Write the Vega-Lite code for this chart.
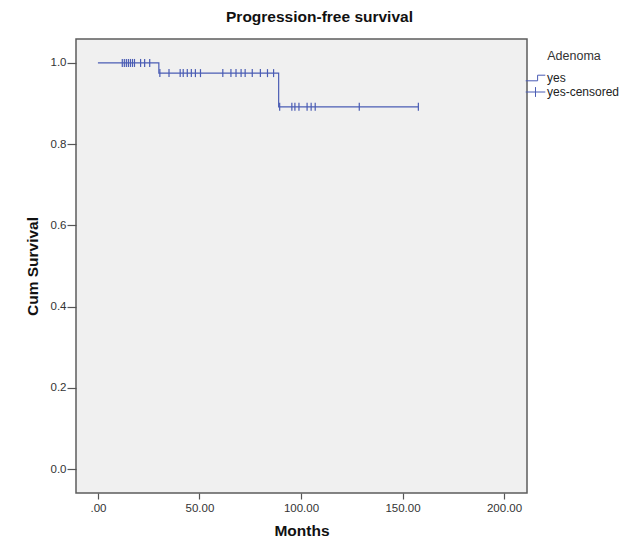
{
  "$schema": "https://vega.github.io/schema/vega-lite/v6.json",
  "autosize": "none",
  "width": 451,
  "height": 454,
  "padding": {"left": 76, "top": 39, "right": 113, "bottom": 49},
  "background": "white",
  "title": {
    "text": "Progression-free survival",
    "font": "Liberation Sans",
    "fontSize": 15.5,
    "fontWeight": "bold",
    "color": "#111",
    "anchor": "middle",
    "dx": 18,
    "offset": 14
  },
  "config": {
    "view": {"fill": "#f0f0f0", "stroke": "#5c5c5c", "strokeWidth": 1.5},
    "font": "Liberation Sans",
    "axis": {
      "domain": false,
      "grid": false,
      "tickColor": "#555",
      "tickWidth": 1.2,
      "labelFont": "Liberation Sans",
      "labelFontSize": 11.5,
      "labelColor": "#333",
      "titleFont": "Liberation Sans",
      "titleFontSize": 15.5,
      "titleFontWeight": "bold",
      "titleColor": "#111"
    }
  },
  "datasets": {
    "curve": [
      {"month": 0, "surv": 1.0, "series": "yes"},
      {"month": 30, "surv": 0.975, "series": "yes"},
      {"month": 89, "surv": 0.892, "series": "yes"},
      {"month": 157.8, "surv": 0.892, "series": "yes"}
    ],
    "censored": [
      {"month": 12, "surv": 1.0, "series": "yes-censored"},
      {"month": 13, "surv": 1.0, "series": "yes-censored"},
      {"month": 14, "surv": 1.0, "series": "yes-censored"},
      {"month": 15, "surv": 1.0, "series": "yes-censored"},
      {"month": 16, "surv": 1.0, "series": "yes-censored"},
      {"month": 17, "surv": 1.0, "series": "yes-censored"},
      {"month": 18, "surv": 1.0, "series": "yes-censored"},
      {"month": 21, "surv": 1.0, "series": "yes-censored"},
      {"month": 23, "surv": 1.0, "series": "yes-censored"},
      {"month": 25.5, "surv": 1.0, "series": "yes-censored"},
      {"month": 30.5, "surv": 0.975, "series": "yes-censored"},
      {"month": 35, "surv": 0.975, "series": "yes-censored"},
      {"month": 40.5, "surv": 0.975, "series": "yes-censored"},
      {"month": 42, "surv": 0.975, "series": "yes-censored"},
      {"month": 44, "surv": 0.975, "series": "yes-censored"},
      {"month": 46, "surv": 0.975, "series": "yes-censored"},
      {"month": 48, "surv": 0.975, "series": "yes-censored"},
      {"month": 50.5, "surv": 0.975, "series": "yes-censored"},
      {"month": 61.5, "surv": 0.975, "series": "yes-censored"},
      {"month": 65.5, "surv": 0.975, "series": "yes-censored"},
      {"month": 68, "surv": 0.975, "series": "yes-censored"},
      {"month": 70.5, "surv": 0.975, "series": "yes-censored"},
      {"month": 72.5, "surv": 0.975, "series": "yes-censored"},
      {"month": 76, "surv": 0.975, "series": "yes-censored"},
      {"month": 80, "surv": 0.975, "series": "yes-censored"},
      {"month": 83.5, "surv": 0.975, "series": "yes-censored"},
      {"month": 86.5, "surv": 0.975, "series": "yes-censored"},
      {"month": 89.5, "surv": 0.892, "series": "yes-censored"},
      {"month": 95.5, "surv": 0.892, "series": "yes-censored"},
      {"month": 97, "surv": 0.892, "series": "yes-censored"},
      {"month": 99, "surv": 0.892, "series": "yes-censored"},
      {"month": 103, "surv": 0.892, "series": "yes-censored"},
      {"month": 105, "surv": 0.892, "series": "yes-censored"},
      {"month": 107, "surv": 0.892, "series": "yes-censored"},
      {"month": 128.7, "surv": 0.892, "series": "yes-censored"},
      {"month": 157.8, "surv": 0.892, "series": "yes-censored"}
    ]
  },
  "encoding": {
    "x": {
      "field": "month",
      "type": "quantitative",
      "scale": {"domain": [-10.8, 211.3], "nice": false, "zero": false},
      "axis": {
        "title": "Months",
        "values": [0, 50, 100, 150, 200],
        "labelExpr": "datum.value === 0 ? '.00' : format(datum.value, '.2f')",
        "tickSize": 6,
        "labelPadding": 3,
        "titlePadding": 10
      }
    },
    "y": {
      "field": "surv",
      "type": "quantitative",
      "scale": {"domain": [-0.059, 1.059], "nice": false, "zero": false},
      "axis": {
        "title": "Cum Survival",
        "values": [0, 0.2, 0.4, 0.6, 0.8, 1.0],
        "format": ".1f",
        "tickSize": 9,
        "labelPadding": 1,
        "titlePadding": 10
      }
    },
    "color": {
      "field": "series",
      "type": "nominal",
      "scale": {"domain": ["yes", "yes-censored"], "range": ["#4a5cb4", "#4a5cb4"]},
      "legend": {
        "title": "Adenoma",
        "orient": "none",
        "legendX": 452,
        "legendY": 11,
        "titleFont": "Liberation Sans",
        "titleFontSize": 12.5,
        "titleFontWeight": "normal",
        "titleColor": "#333",
        "titleAlign": "center",
        "titleAnchor": "middle",
        "titlePadding": 8,
        "labelFont": "Liberation Sans",
        "labelFontSize": 12,
        "labelColor": "#222",
        "labelOffset": 4,
        "rowPadding": 0,
        "symbolSize": 196,
        "symbolType": "stroke",
        "symbolStrokeWidth": 1,
        "encode": {
          "symbols": {
            "update": {
              "shape": {"signal": "datum.value === 'yes' ? 'M-1.4,0.4H0.3V-0.4H1.4' : 'M-1.4,0H1.4M0,-0.7V0.7'"},
              "fill": {"value": "transparent"},
              "stroke": {"value": "#4a5cb4"},
              "strokeWidth": {"value": 1},
              "size": {"value": 196}
            }
          }
        }
      }
    }
  },
  "layer": [
    {
      "data": {"name": "curve"},
      "mark": {"type": "line", "interpolate": "step-after", "strokeWidth": 1.2}
    },
    {
      "data": {"name": "censored"},
      "mark": {"type": "point", "shape": "M0,-1V1", "size": 64, "filled": false, "strokeWidth": 1.2, "opacity": 1}
    }
  ]
}
